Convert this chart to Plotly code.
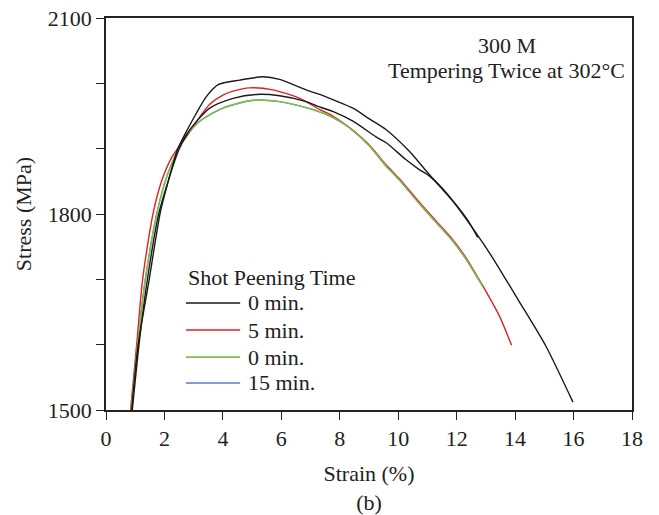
import plotly.graph_objects as go

# ---- data ----
strain_0a = [0.88, 1.1, 1.46, 1.86, 2.1, 2.45, 2.76, 3.1, 3.44, 3.84, 4.58, 5.37, 5.94, 6.85, 7.31, 7.76,
             8.45, 9.0, 9.59, 10.38, 11.07, 11.86, 12.66, 13.23, 14.1, 15.05, 15.98]
stress_0a = [1500, 1600, 1695, 1803, 1845, 1899, 1927, 1955, 1980, 1998, 2005, 2010, 2006, 1990, 1983, 1975,
             1962, 1946, 1929, 1896, 1860, 1820, 1771, 1733, 1669, 1598, 1512]

strain_0b = [0.9, 1.13, 1.4, 1.82, 2.5, 2.87, 3.55, 4.35, 5.15, 5.94, 6.85, 7.31, 7.76, 8.45, 9.24, 9.59,
             10.27, 10.72, 11.07, 11.5, 12.0, 12.4, 12.72]
stress_0b = [1500, 1600, 1695, 1803, 1899, 1929, 1962, 1977, 1983, 1981, 1972, 1964, 1957, 1942, 1918, 1909,
             1883, 1868, 1858, 1840, 1813, 1789, 1764]

strain_5 = [0.84, 1.05, 1.24, 1.45, 1.62, 1.9, 2.24, 2.76, 3.2, 3.55, 4.0, 4.35, 4.92, 5.71, 6.63, 7.31,
            7.76, 8.45, 9.0, 9.59, 10.04, 10.72, 11.3, 11.86, 12.32, 12.88, 13.46, 13.88]
stress_5 = [1500, 1600, 1695, 1760, 1803, 1850, 1886, 1919, 1948, 1968, 1982, 1988, 1993, 1990, 1977, 1960,
            1950, 1928, 1906, 1875, 1854, 1818, 1789, 1761, 1733, 1691, 1644, 1599]

strain_0c = [0.86, 1.08, 1.33, 1.75, 2.1, 2.47, 2.64, 3.21, 4.0, 5.03, 5.94, 7.08, 7.76, 8.33, 9.0, 9.59,
             10.04, 10.72, 11.3, 11.86, 12.32, 12.88]
stress_0c = [1500, 1600, 1695, 1803, 1860, 1899, 1914, 1942, 1962, 1974, 1972, 1960, 1948, 1932, 1905, 1873,
             1852, 1816, 1787, 1759, 1731, 1690]

# 15 min curve lies under the green one (not visible in the reference)
strain_15 = list(strain_0c)
stress_15 = list(stress_0c)

x_ticks = [0, 2, 4, 6, 8, 10, 12, 14, 16, 18]
y_major = [1500, 1800, 2100]
y_minor = [1600, 1700, 1900, 2000]

legend_title = "Shot Peening Time"
legend_labels = ["0 min.", "5 min.", "0 min.", "15 min."]

FONT = "Liberation Serif, Times New Roman, serif"
FS = 22
BLACK = "#1a1a1a"
RED = "#e31e24"
GREEN = "#7cc242"
BLUE = "#4f7fc0"
legend_colors = [BLACK, RED, GREEN, BLUE]

fig = go.Figure()

def add(x, y, color, name):
    fig.add_trace(go.Scatter(
        x=x, y=y, mode="lines", name=name, showlegend=False,
        line=dict(color=color, width=1.4, shape="spline", smoothing=0.7),
    ))

add(strain_15, stress_15, BLUE, "15 min.")
add(strain_5, stress_5, RED, "5 min.")
add(strain_0c, stress_0c, GREEN, "0 min.")
add(strain_0b, stress_0b, BLACK, "0 min.")
add(strain_0a, stress_0a, BLACK, "0 min.")

axis_common = dict(
    showline=True, linecolor="#222", linewidth=1.5, mirror=True,
    ticks="outside", ticklen=8, tickwidth=1.3, tickcolor="#222",
    showgrid=False, zeroline=False, automargin=False,
    ticklabeloverflow="allow",
    tickfont=dict(family=FONT, size=FS, color="#222"),
)

# manual legend (text + key lines), placed in plot-area fractions
leg_x0, leg_x1, leg_tx = 0.152, 0.255, 0.266
leg_title_y = 0.339
leg_rows_y = [0.273, 0.204, 0.135, 0.069]

txt_font = dict(family=FONT, size=FS, color="#222")
annotations = [
    dict(text="300 M", xref="paper", yref="paper", x=0.762, y=0.93,
         xanchor="center", yanchor="middle", showarrow=False, font=txt_font),
    dict(text="Tempering Twice at 302°C", xref="paper", yref="paper", x=0.762, y=0.865,
         xanchor="center", yanchor="middle", showarrow=False, font=txt_font),
    dict(text=legend_title, xref="paper", yref="paper", x=leg_x0, y=leg_title_y,
         xanchor="left", yanchor="middle", showarrow=False, font=txt_font),
]
shapes = []
for lab, col, yy in zip(legend_labels, legend_colors, leg_rows_y):
    annotations.append(dict(text=lab, xref="paper", yref="paper", x=leg_tx, y=yy,
                            xanchor="left", yanchor="middle", showarrow=False, font=txt_font))
    shapes.append(dict(type="line", xref="paper", yref="paper", x0=leg_x0, x1=leg_x1, y0=yy, y1=yy,
                       line=dict(color=col, width=1.6)))

fig.update_layout(
    width=659, height=515,
    margin=dict(l=106, r=27, t=18, b=105),
    paper_bgcolor="white", plot_bgcolor="white",
    font=dict(family=FONT, size=FS, color="#222"),
    xaxis=dict(range=[0, 18], tickvals=x_ticks,
               title=dict(text="Strain (%)<br>(b)", font=dict(family=FONT, size=FS), standoff=19),
               **axis_common),
    yaxis=dict(range=[1500, 2100], tickvals=y_major,
               minor=dict(tickvals=y_minor, ticks="outside", ticklen=8, tickwidth=1.3, tickcolor="#222"),
               title=dict(text="Stress (MPa)", font=dict(family=FONT, size=FS), standoff=10),
               **axis_common),
    showlegend=False,
    annotations=annotations,
    shapes=shapes,
)

fig.write_html("out.html", config={"displayModeBar": False},
               post_script="document.body.style.margin='0';")
